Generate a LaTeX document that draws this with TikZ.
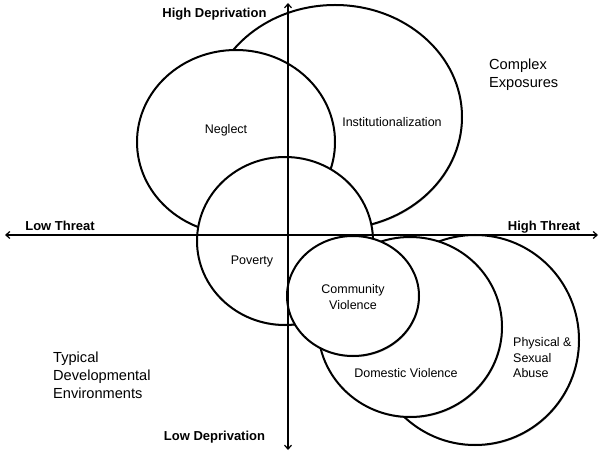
\documentclass[tikz,border=0pt]{standalone}
\usepackage{fontspec}
\setmainfont{Liberation Sans}
\usetikzlibrary{arrows.meta,shadows}
\begin{document}
\begin{tikzpicture}[x=1pt,y=-1pt,
  blob/.style={draw=black,line width=2pt,fill=white,
    drop shadow={shadow xshift=0.8pt,shadow yshift=-1.2pt,opacity=0.25,fill=black}},
  axis/.style={draw=black,line width=1.2pt,{Straight Barb[length=4pt,width=7pt]}-{Straight Barb[length=4pt,width=7pt]}},
  lbl/.style={font=\fontsize{12.5}{15.5}\selectfont,inner sep=0pt,align=center},
  axlbl/.style={font=\fontsize{13}{15}\selectfont\bfseries,inner sep=0pt},
  big/.style={font=\fontsize{14.6}{18}\selectfont,inner sep=0pt,align=left}]
\useasboundingbox[fill=white] (0,0) rectangle (602,454);

% ellipses (back to front)
\draw[blob] (335,117) ellipse [x radius=127, y radius=112];
\draw[blob] (236,142) ellipse [x radius=99, y radius=92];
\draw[blob] (285,241) ellipse [x radius=88, y radius=84];
\draw[blob] (475,340) ellipse [x radius=104, y radius=105];
\draw[blob] (410,327) ellipse [x radius=92, y radius=90];
\draw[blob] (353,296) ellipse [x radius=66, y radius=60];

% axes
\coordinate (W) at (5,235);
\coordinate (E) at (598,235);
\coordinate (N) at (288,3);
\coordinate (S) at (288,450);
\draw[axis] (W) -- (E);
\draw[axis] (N) -- (S);

% axis labels
\node[axlbl] (hd) at (214.5,14) {High Deprivation};
\node[axlbl] (ld) at (214.5,437) {Low Deprivation};
\node[axlbl] (lt) at (60,226) {Low Threat};
\node[axlbl] (ht) at (544,227) {High Threat};

% ellipse labels
\node[lbl] (neg) at (226,130) {Neglect};
\node[lbl] (inst) at (392,122) {Institutionalization};
\node[lbl] (pov) at (252,261) {Poverty};
\node[lbl] (cv) at (353,297) {Community\\Violence};
\node[lbl] (dv) at (406,373) {Domestic Violence};
\node[lbl,align=left,anchor=north west] (psa) at (513,337.5) {Physical \&\\Sexual\\Abuse};

% corner labels
\node[big,anchor=north west] (typ) at (53,351.5) {Typical\\Developmental\\Environments};
\node[big,anchor=north west] (cx) at (489,58.5) {Complex\\Exposures};
\end{tikzpicture}
\end{document}
